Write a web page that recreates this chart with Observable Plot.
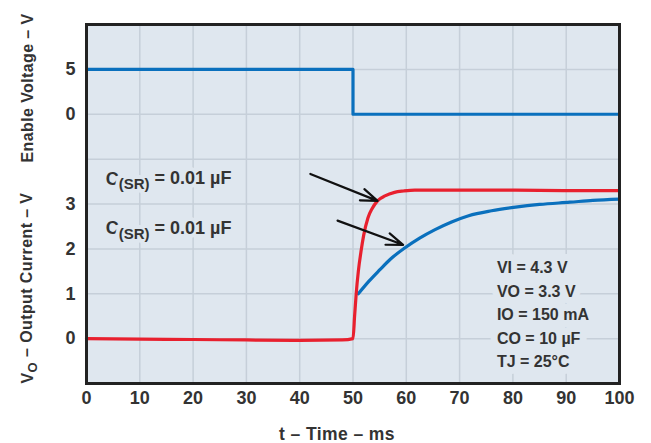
<!DOCTYPE html>
<html><head><meta charset="utf-8">
<script src="https://cdn.jsdelivr.net/npm/d3@7"></script>
<script src="https://cdn.jsdelivr.net/npm/@observablehq/plot@0.6"></script>
<style>
body{margin:0;background:#fff;}
#chart svg{display:block;}
</style>
</head><body><div id="chart"></div>
<script>
// ---- data ----
const timeTicks = [0,10,20,30,40,50,60,70,80,90,100];
const currentTicks = [0,1,2,3];
const enableTicks = [0,5];
const gridLevels = [-1,0,1,2,3,4,5,6,7];

const enableT = [0,50,50,100];
const enableV = [5,5,0,0];

const fastT = [0,10,20,30,40,48,50,50.3,50.6,51,51.5,52,52.8,53.6,54.6,56,57.8,59.5,61.6,65,70,80,90,100];
const fastI = [0,-0.01,-0.02,-0.03,-0.04,-0.03,0,0.5,1.0,1.5,1.94,2.3,2.69,2.9,3.07,3.18,3.26,3.29,3.31,3.31,3.31,3.31,3.30,3.30];

const slowT = [51,53,55,57,59.7,62.5,65.4,68.5,71.7,76,80.5,85,90.7,95,100];
const slowI = [1.0,1.28,1.53,1.77,2.02,2.24,2.43,2.6,2.74,2.85,2.93,2.99,3.04,3.08,3.11];

const capLabels = ["C(SR) = 0.01 µF","C(SR) = 0.01 µF"];
const capLabelT = [3.6,3.6];
const capLabelI = [3.56,2.45];

const arrowT1 = [42.0,47.1], arrowI1 = [3.67,2.63];
const arrowT2 = [54.6,59.4], arrowI2 = [3.07,2.09];

const conditions = ["VI = 4.3 V","VO = 3.3 V","IO = 150 mA","CO = 10 µF","TJ = 25°C"];
const conditionI = [1.58,1.05,0.53,0.0,-0.52];
const conditionT = 77.0;

// enable voltage occupies the upper band: 0 V -> level 5, 5 V -> level 6
const enY = v => 5 + v/5;

const FONT = "'Liberation Sans', Arial, Helvetica, sans-serif";
const BG = "#dfe7ef", GRID = "#c6cfd9", BLUE = "#0a70bd", RED = "#e8202e", INK = "#333";

const enableData = enableT.map((t,i)=>({t, y: enY(enableV[i])}));
const fastData = fastT.map((t,i)=>({t, y: fastI[i]}));
const slowData = slowT.map((t,i)=>({t, y: slowI[i]}));
const yTicks = currentTicks.concat(enableTicks.map(enY));
const yTickText = currentTicks.map(String).concat(enableTicks.map(String));

const chart = Plot.plot({
  width: 651, height: 443,
  marginLeft: 86, marginRight: 32, marginTop: 24, marginBottom: 60,
  x: {domain: [0,100]},
  y: {domain: [-1,7]},
  style: {fontFamily: FONT, fontSize: "18px", fontWeight: "bold", color: INK, background: "#fff"},
  marks: [
    Plot.frame({fill: BG}),
    Plot.ruleX(timeTicks, {stroke: GRID, strokeWidth: 1.5}),
    Plot.ruleY(gridLevels, {stroke: GRID, strokeWidth: 1.5}),
    Plot.axisX(timeTicks, {tickSize: 0, tickPadding: 8, label: null, fill: INK, fontSize: 18}),
    Plot.axisY(yTicks, {tickSize: 0, tickPadding: 11, label: null, fill: INK, fontSize: 18,
      tickFormat: (d) => yTickText[yTicks.indexOf(d)]}),
    Plot.text(conditions, {x: () => conditionT, y: (d,i) => conditionI[i], text: d => d,
      textAnchor: "start", fontSize: 16, fill: INK, stroke: BG, strokeWidth: 14}),
    Plot.text(capLabels, {x: (d,i) => capLabelT[i], y: (d,i) => capLabelI[i], text: d => d,
      textAnchor: "start", fontSize: 18, fill: INK, stroke: BG, strokeWidth: 8}),
    Plot.line(enableData, {x: "t", y: "y", stroke: BLUE, strokeWidth: 3.2}),
    Plot.line(slowData, {x: "t", y: "y", stroke: BLUE, strokeWidth: 3.2, curve: "monotone-x"}),
    Plot.line(fastData, {x: "t", y: "y", stroke: RED, strokeWidth: 3.2, curve: "monotone-x"}),
    Plot.arrow([0,1], {x1: i => arrowT1[i], y1: i => arrowI1[i], x2: i => arrowT2[i], y2: i => arrowI2[i],
      stroke: "#111", strokeWidth: 2.2, headLength: 12, headAngle: 40}),
    Plot.frame({stroke: "#222", strokeWidth: 3})
  ]
});

const svg = d3.select(chart);
// subscripts in the capacitor labels
svg.selectAll("text").filter(function(){ return this.textContent.startsWith("C(SR)"); })
  .each(function(){
    const el = d3.select(this);
    const rest = this.textContent.slice(5);
    el.text(null);
    el.append("tspan").text("C");
    el.append("tspan").attr("dy", "0.3em").attr("font-size", "15").text("(SR)");
    el.append("tspan").attr("dy", "-0.3em").text(rest);
  });

// axis titles
const titles = svg.append("g").attr("font-family", FONT)
  .attr("font-size", 16).attr("font-weight", "bold").attr("fill", INK).attr("letter-spacing", "0.4");
titles.append("text").attr("text-anchor", "middle")
  .attr("transform", "translate(33,88) rotate(-90)").text("Enable Voltage – V");
const vo = titles.append("text").attr("text-anchor", "middle")
  .attr("transform", "translate(33,288) rotate(-90)");
vo.append("tspan").text("V");
vo.append("tspan").attr("dy", "0.3em").attr("font-size", 13).text("O");
vo.append("tspan").attr("dy", "-0.3em").text(" – Output Current – V");
titles.append("text").attr("text-anchor", "middle").attr("x", 337).attr("y", 440)
  .attr("font-size", 17.5).text("t – Time – ms");

document.getElementById("chart").appendChild(chart);
</script>
</body></html>
